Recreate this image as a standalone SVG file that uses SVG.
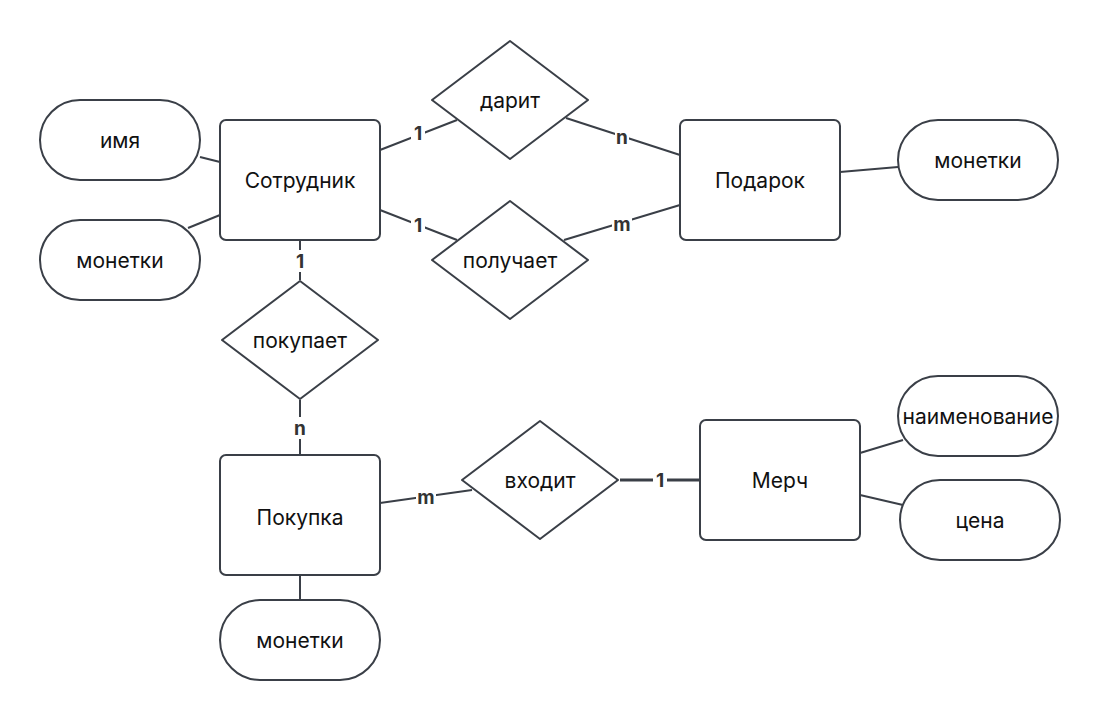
<svg xmlns="http://www.w3.org/2000/svg" width="1100" height="720" viewBox="0 0 1100 720">
<style>
.shape{fill:#fff;stroke:#3a3f47;stroke-width:2}
.conn line{stroke:#3a3f47;stroke-width:2}
.t{font-family:Inter,"Noto Sans",sans-serif;font-size:21px;fill:#111;text-anchor:middle;dominant-baseline:central}
.lb{font-family:Inter,"Noto Sans",sans-serif;font-size:19px;font-weight:bold;fill:#333;text-anchor:middle;dominant-baseline:central}
.lbg{fill:#fff}
</style>
<rect width="1100" height="720" fill="#fff"/>
<g id="connectors" class="conn">
<line x1="200" y1="157" x2="220" y2="162"/>
<line x1="188" y1="228" x2="220" y2="215"/>
<line x1="380" y1="150" x2="457" y2="120"/>
<line x1="380" y1="210" x2="457" y2="240"/>
<line x1="566" y1="118" x2="680" y2="155"/>
<line x1="564" y1="240" x2="680" y2="205"/>
<line x1="840" y1="172" x2="898" y2="167"/>
<line x1="300" y1="240" x2="300" y2="280"/>
<line x1="300" y1="400" x2="300" y2="455"/>
<line x1="300" y1="575" x2="300" y2="600"/>
<line x1="380" y1="503" x2="472" y2="490"/>
<line x1="620" y1="480" x2="700" y2="480" style="stroke-width:3"/>
<line x1="860" y1="453" x2="903" y2="440"/>
<line x1="860" y1="495" x2="903" y2="505"/>
<g id="labels">
<rect class="lbg" x="411" y="123" width="14" height="20"/><text class="lb" x="418" y="133">1</text>
<rect class="lbg" x="411" y="215" width="14" height="20"/><text class="lb" x="418" y="225">1</text>
<rect class="lbg" x="615" y="127" width="14" height="20"/><text class="lb" x="622" y="137">n</text>
<rect class="lbg" x="612" y="214" width="20" height="20"/><text class="lb" x="622" y="224">m</text>
<rect class="lbg" x="293" y="250" width="14" height="22"/><text class="lb" x="300" y="261">1</text>
<rect class="lbg" x="293" y="417" width="14" height="22"/><text class="lb" x="300" y="428">n</text>
<rect class="lbg" x="416" y="487" width="20" height="20"/><text class="lb" x="426" y="497">m</text>
<rect class="lbg" x="653" y="470" width="14" height="20"/><text class="lb" x="660" y="480">1</text>
</g>
</g>
<g id="attr-imya"><rect class="shape" x="40" y="100" width="160" height="80" rx="40"/><text class="t" x="120" y="140">имя</text></g>
<g id="attr-monetki1"><rect class="shape" x="40" y="220" width="160" height="80" rx="40"/><text class="t" x="120" y="260">монетки</text></g>
<g id="sotrudnik"><rect class="shape" x="220" y="120" width="160" height="120" rx="6"/><text class="t" x="300" y="180">Сотрудник</text></g>
<g id="darit"><path class="shape" d="M510 41 L588 100 L510 159 L432 100 Z" stroke-linejoin="round"/><text class="t" x="510" y="100">дарит</text></g>
<g id="poluchaet"><path class="shape" d="M510 201 L588 260 L510 319 L432 260 Z" stroke-linejoin="round"/><text class="t" x="510" y="260">получает</text></g>
<g id="podarok"><rect class="shape" x="680" y="120" width="160" height="120" rx="6"/><text class="t" x="760" y="180">Подарок</text></g>
<g id="attr-monetki2"><rect class="shape" x="898" y="120" width="160" height="80" rx="40"/><text class="t" x="978" y="160">монетки</text></g>
<g id="pokupaet"><path class="shape" d="M300 281 L378 340 L300 399 L222 340 Z" stroke-linejoin="round"/><text class="t" x="300" y="340">покупает</text></g>
<g id="pokupka"><rect class="shape" x="220" y="455" width="160" height="120" rx="6"/><text class="t" x="300" y="517">Покупка</text></g>
<g id="attr-monetki3"><rect class="shape" x="220" y="600" width="160" height="80" rx="40"/><text class="t" x="300" y="640">монетки</text></g>
<g id="vhodit"><path class="shape" d="M540 421 L618 480 L540 539 L462 480 Z" stroke-linejoin="round"/><text class="t" x="540" y="480">входит</text></g>
<g id="merch"><rect class="shape" x="700" y="420" width="160" height="120" rx="6"/><text class="t" x="780" y="480">Мерч</text></g>
<g id="attr-naimenovanie"><rect class="shape" x="898" y="376" width="160" height="80" rx="40"/><text class="t" x="978" y="416">наименование</text></g>
<g id="attr-cena"><rect class="shape" x="900" y="480" width="160" height="80" rx="40"/><text class="t" x="980" y="520">цена</text></g>
</svg>
